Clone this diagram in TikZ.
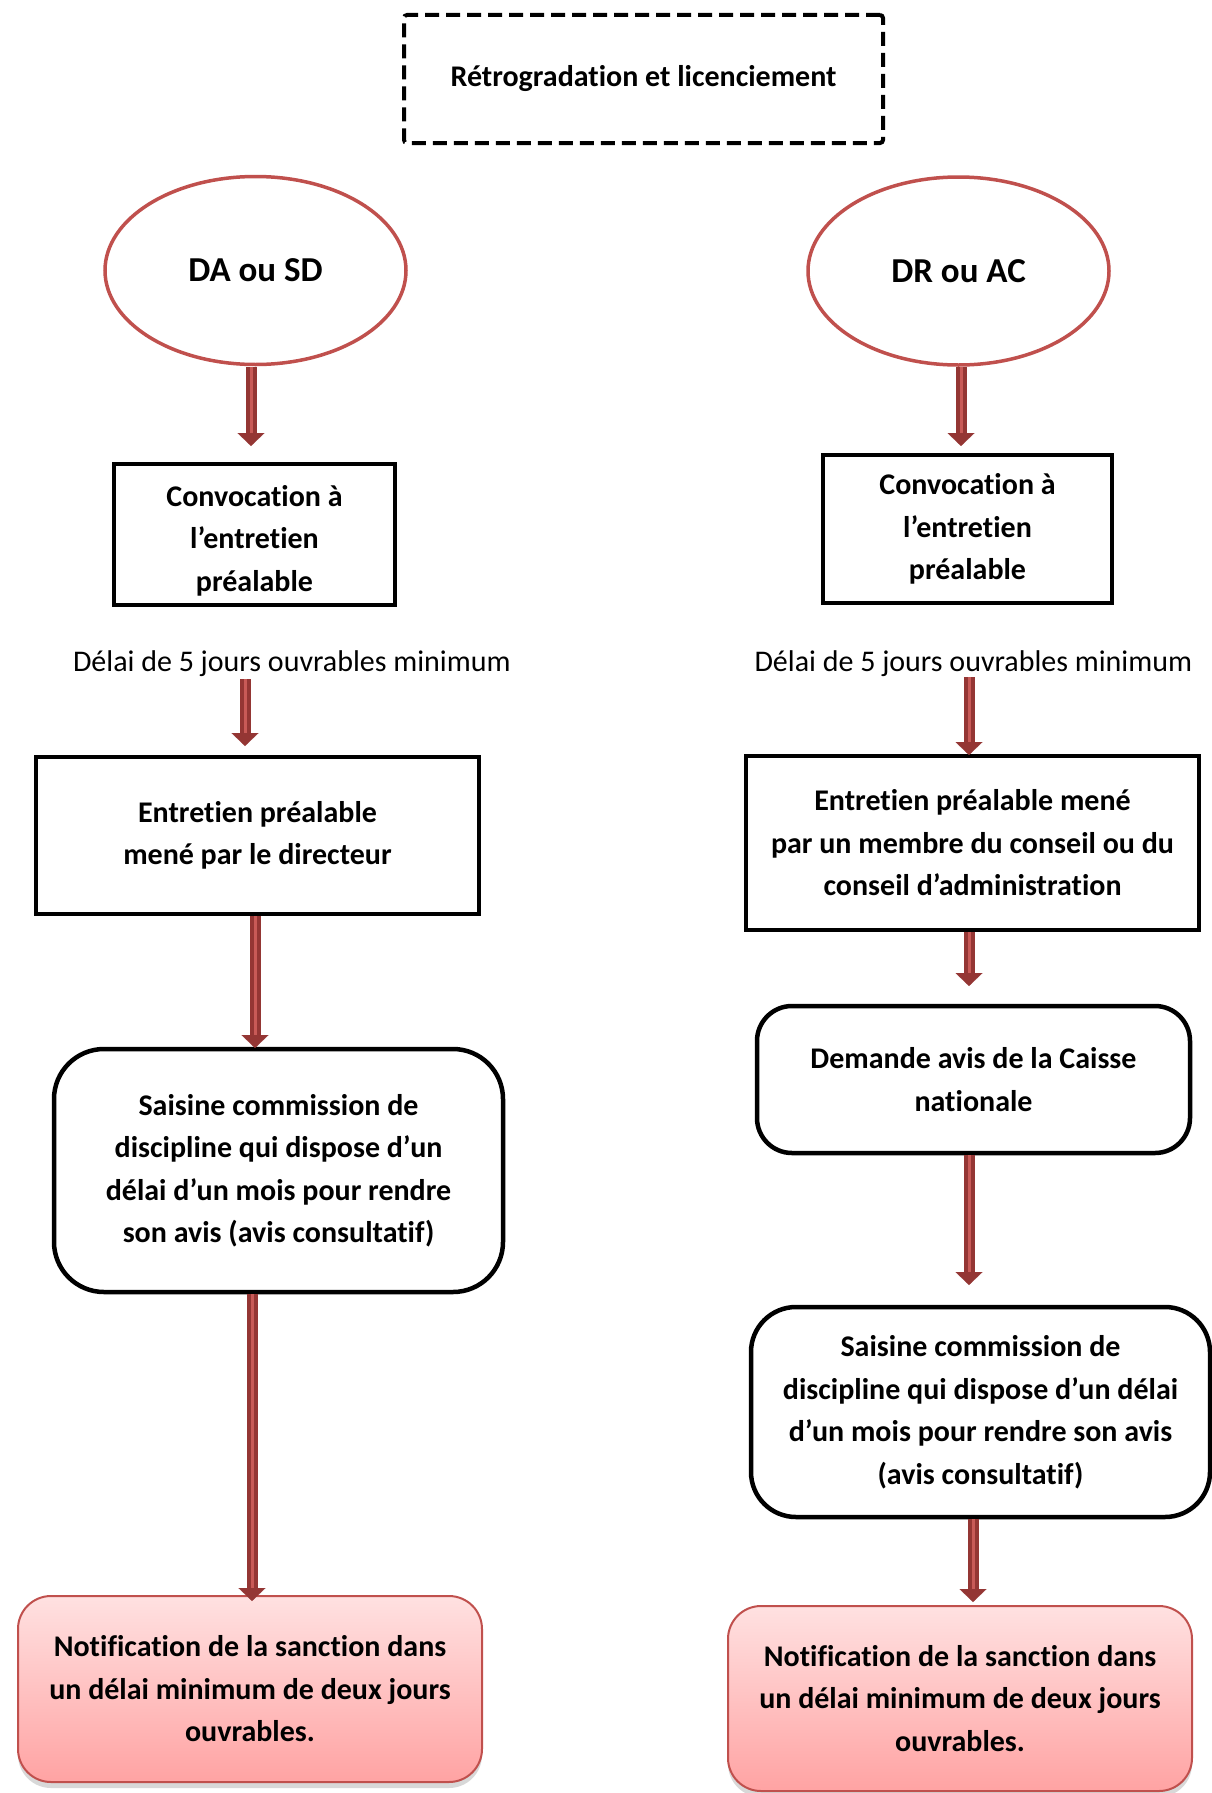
\documentclass[tikz,border=0pt]{standalone}
\usepackage{fontspec}
\setmainfont[Ligatures={NoCommon,NoContextual},Contextuals=NoAlternate]{Carlito}
\usetikzlibrary{arrows.meta,shapes.geometric,shadows,calc}
\definecolor{arrowdark}{HTML}{943634}
\definecolor{arrowlight}{HTML}{C85A57}
\definecolor{ellred}{HTML}{C0504D}
\definecolor{notetop}{HTML}{FFE1E1}
\definecolor{notebot}{HTML}{FFA3A3}
\definecolor{noteline}{HTML}{C0504D}
\begin{document}
\begin{tikzpicture}[x=1pt,y=-1pt,
  every node/.style={inner sep=0pt, outer sep=0pt},
  body/.style={font=\fontsize{30}{42.5}\selectfont\bfseries, align=center},
  sqbox/.style={body, rectangle, draw=black, line width=4pt, fill=white},
  rbox/.style={body, rectangle, draw=black, line width=4.5pt, fill=white, rounded corners=#1},
  ell/.style={ellipse, draw=ellred, line width=3.5pt, fill=white, font=\fontsize{35}{40}\selectfont\bfseries},
  note/.style={body, rectangle, rounded corners=33pt, draw=noteline, line width=2pt, top color=notetop, bottom color=notebot, drop shadow={shadow xshift=0pt, shadow yshift=-6pt, opacity=0.3}},
  titlebox/.style={rectangle, draw=black, line width=4pt, dash pattern=on 14pt off 7pt, rounded corners=3pt, font=\fontsize{30}{36}\selectfont\bfseries},
  plain/.style={anchor=base west, font=\fontsize{30}{36}\selectfont},
  flow/.style={draw=arrowdark, line width=11pt, shorten <=2pt, shorten >=#1, -{Triangle[width=27pt,length=13pt,line width=0.1pt]}, postaction={draw=arrowlight, line width=3pt, -, shorten >=#1+13pt}},
  flow/.default=0pt
]
\fill[white] (0,0) rectangle (1212,1793);
\useasboundingbox (0,0) rectangle (1212,1793);

\node[titlebox, minimum width=479pt, minimum height=128pt] (title) at (643.5,79) {Rétrogradation et licenciement};

% left column
\node[ell, minimum width=301pt, minimum height=188pt] (e1) at (255.5,270.5) {DA ou SD};
\node[sqbox, minimum width=281pt, minimum height=141pt, text height=118pt] (c1) at (254.5,534.5) {Convocation à\\ l’entretien\\ préalable};
\node[plain] (d1) at (73,671) {Délai de 5 jours ouvrables minimum};
\coordinate (t1) at (245,677);
\node[sqbox, minimum width=443pt, minimum height=157pt] (b1) at (257.5,835.5) {Entretien préalable\\ mené par le directeur};
\node[rbox=50pt, minimum width=449pt, minimum height=243pt] (s1) at (278.5,1170.5) {Saisine commission de\\ discipline qui dispose d’un\\ délai d’un mois pour rendre\\ son avis (avis consultatif)};
\node[note, minimum width=464pt, minimum height=186pt] (n1) at (250,1689) {Notification de la sanction dans\\ un délai minimum de deux jours\\ ouvrables.};

% right column
\node[ell, minimum width=301pt, minimum height=188pt] (e2) at (958.5,271) {DR ou AC};
\node[sqbox, minimum width=289pt, minimum height=148pt] (c2) at (967.5,529) {Convocation à\\ l’entretien\\ préalable};
\node[plain] (d2) at (754.5,671) {Délai de 5 jours ouvrables minimum};
\coordinate (t2) at (969,675);
\node[sqbox, minimum width=453pt, minimum height=174pt] (b2) at (972.5,843) {Entretien préalable mené\\ par un membre du conseil ou du\\ conseil d’administration};
\node[rbox=35pt, minimum width=433pt, minimum height=147pt] (q2) at (973.5,1079.5) {Demande avis de la Caisse\\ nationale};
\node[rbox=45pt, minimum width=459pt, minimum height=210pt] (s2) at (980.5,1412) {Saisine commission de\\ discipline qui dispose d’un délai\\ d’un mois pour rendre son avis\\ (avis consultatif)};
\node[note, minimum width=464pt, minimum height=185pt] (n2) at (960,1698.5) {Notification de la sanction dans\\ un délai minimum de deux jours\\ ouvrables.};

% arrows left
\draw[flow=18pt] ($(e1.south)+(-4.5,0)$) -- ($(e1.south |- c1.north)+(-4.5,0)$);
\draw[flow=11pt] (t1) -- (t1 |- b1.north);
\draw[flow=1pt] ($(b1.south)+(-2.5,0)$) -- ($(b1.south |- s1.north)+(-2.5,0)$);
\draw[flow=-5pt] ($(s1.south)+(-26.5,0)$) -- ($(s1.south |- n1.north)+(-26.5,0)$);

% arrows right
\draw[flow=9pt] ($(e2.south)+(2.5,0)$) -- ($(e2.south |- c2.north)+(2.5,0)$);
\draw[flow=1pt] (t2) -- (t2 |- b2.north);
\draw[flow=20pt] ($(b2.south)+(-3.5,0)$) -- ($(b2.south |- q2.north)+(-3.5,0)$);
\draw[flow=22pt] ($(q2.south)+(-4.5,0)$) -- ($(q2.south |- s2.north)+(-4.5,0)$);
\draw[flow=4pt] ($(s2.south)+(-7.5,0)$) -- ($(s2.south |- n2.north)+(-7.5,0)$);
\end{tikzpicture}
\end{document}
